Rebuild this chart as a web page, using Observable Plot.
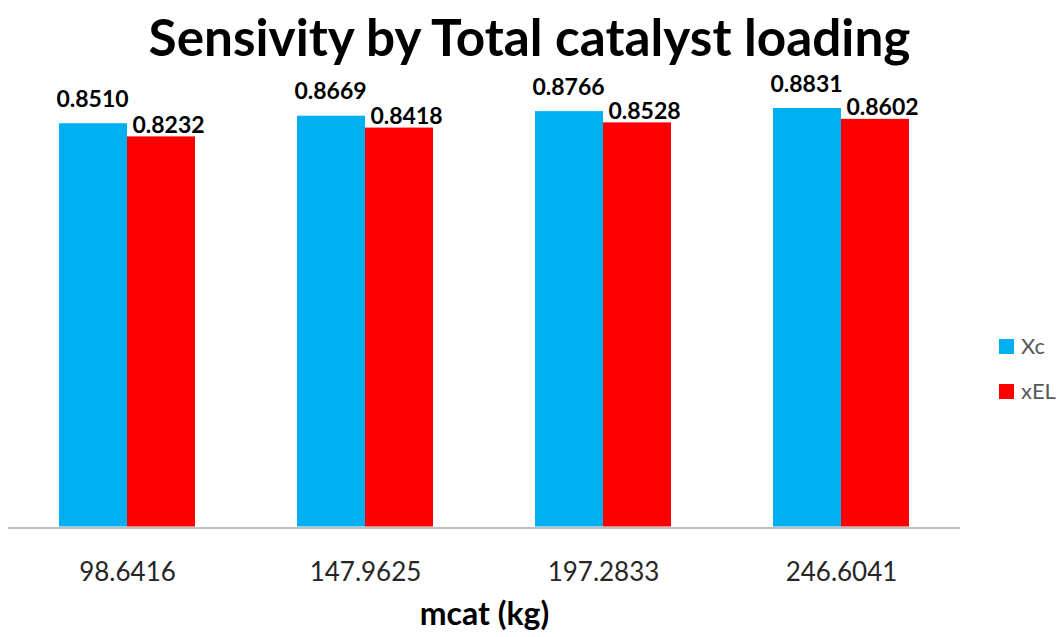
<!DOCTYPE html>
<html><head><meta charset="utf-8">
<script src="https://cdn.jsdelivr.net/npm/d3@7"></script>
<script src="https://cdn.jsdelivr.net/npm/@observablehq/plot@0.6"></script>
<style>
body{margin:0;background:#fff;font-family:Lato,"Open Sans",sans-serif;}
#wrap{position:relative;width:1059px;height:637px;overflow:hidden;}
#title{position:absolute;left:0;top:0;width:1059px;height:72px;line-height:72px;text-align:center;font-weight:bold;font-size:46px;color:#000;white-space:nowrap;}
#title span{display:inline-block;}
.sw{position:absolute;width:15px;height:15px;}
.lt{position:absolute;font-size:22px;color:#595959;line-height:22px;}
</style></head>
<body>
<div id="wrap">
  <div id="chart"></div>
  <div id="title"><span id="tspan">Sensivity by Total catalyst loading</span></div>
  <div class="sw" style="left:999px;top:339px;background:#00B0F0"></div>
  <div class="lt" style="left:1021px;top:335px">Xc</div>
  <div class="sw" style="left:999px;top:384px;background:#FF0000"></div>
  <div class="lt" style="left:1021px;top:380px">xEL</div>
</div>
<script>
const categories = ["98.6416", "147.9625", "197.2833", "246.6041"];
const series = ["Xc", "xEL"];
const xcValues = [0.8510, 0.8669, 0.8766, 0.8831];
const xelValues = [0.8232, 0.8418, 0.8528, 0.8602];
const colors = ["#00B0F0", "#FF0000"];

// fit title width
const ts = document.getElementById("tspan");
const w = ts.getBoundingClientRect().width;
document.getElementById("title").style.fontSize = (46 * 762 / w) + "px";

const rows = [];
categories.forEach((c, i) => {
  rows.push({cat: c, s: series[0], v: xcValues[i]});
  rows.push({cat: c, s: series[1], v: xelValues[i]});
});
const fmt = d => d.v.toFixed(4);

const chart = Plot.plot({
  width: 1059,
  height: 637,
  marginLeft: 8,
  marginRight: 99,
  marginTop: 100,
  marginBottom: 110.5,
  style: {fontFamily: "Lato, 'Open Sans', sans-serif", background: "#fff"},
  fx: {domain: categories, padding: 0, label: "mcat (kg)", labelAnchor: "center"},
  x: {domain: series, paddingInner: 0, paddingOuter: 0.75, axis: null},
  y: {domain: [0, 0.9], axis: null},
  color: {domain: series, range: colors},
  marks: [
    Plot.axisFx({anchor: "bottom", tickSize: 0, tickPadding: 36, fontSize: 26, fill: "#262626", label: "mcat (kg)", labelAnchor: "center", labelOffset: 98}),
    Plot.barY(rows, {fx: "cat", x: "s", y: "v", fill: "s"}),
    Plot.ruleY([0], {stroke: "#BFBFBF", strokeWidth: 2, dy: 1}),
    Plot.text(rows.filter(d => d.s === "Xc"), {fx: "cat", x: "s", y: "v", text: fmt, lineAnchor: "bottom", dy: -17, dx: -1, fontSize: 23, fontWeight: "bold", fill: "#000"}),
    Plot.text(rows.filter(d => d.s === "xEL"), {fx: "cat", x: "s", y: "v", text: fmt, lineAnchor: "bottom", dy: -4, dx: 7, fontSize: 23, fontWeight: "bold", fill: "#000"})
  ]
});
document.getElementById("chart").appendChild(chart);
chart.querySelectorAll("text").forEach(t => {
  if (t.textContent === "mcat (kg)") { t.style.fontWeight = "bold"; t.style.fontSize = "32px"; t.setAttribute("fill", "#000"); }
});
</script>
</body></html>
